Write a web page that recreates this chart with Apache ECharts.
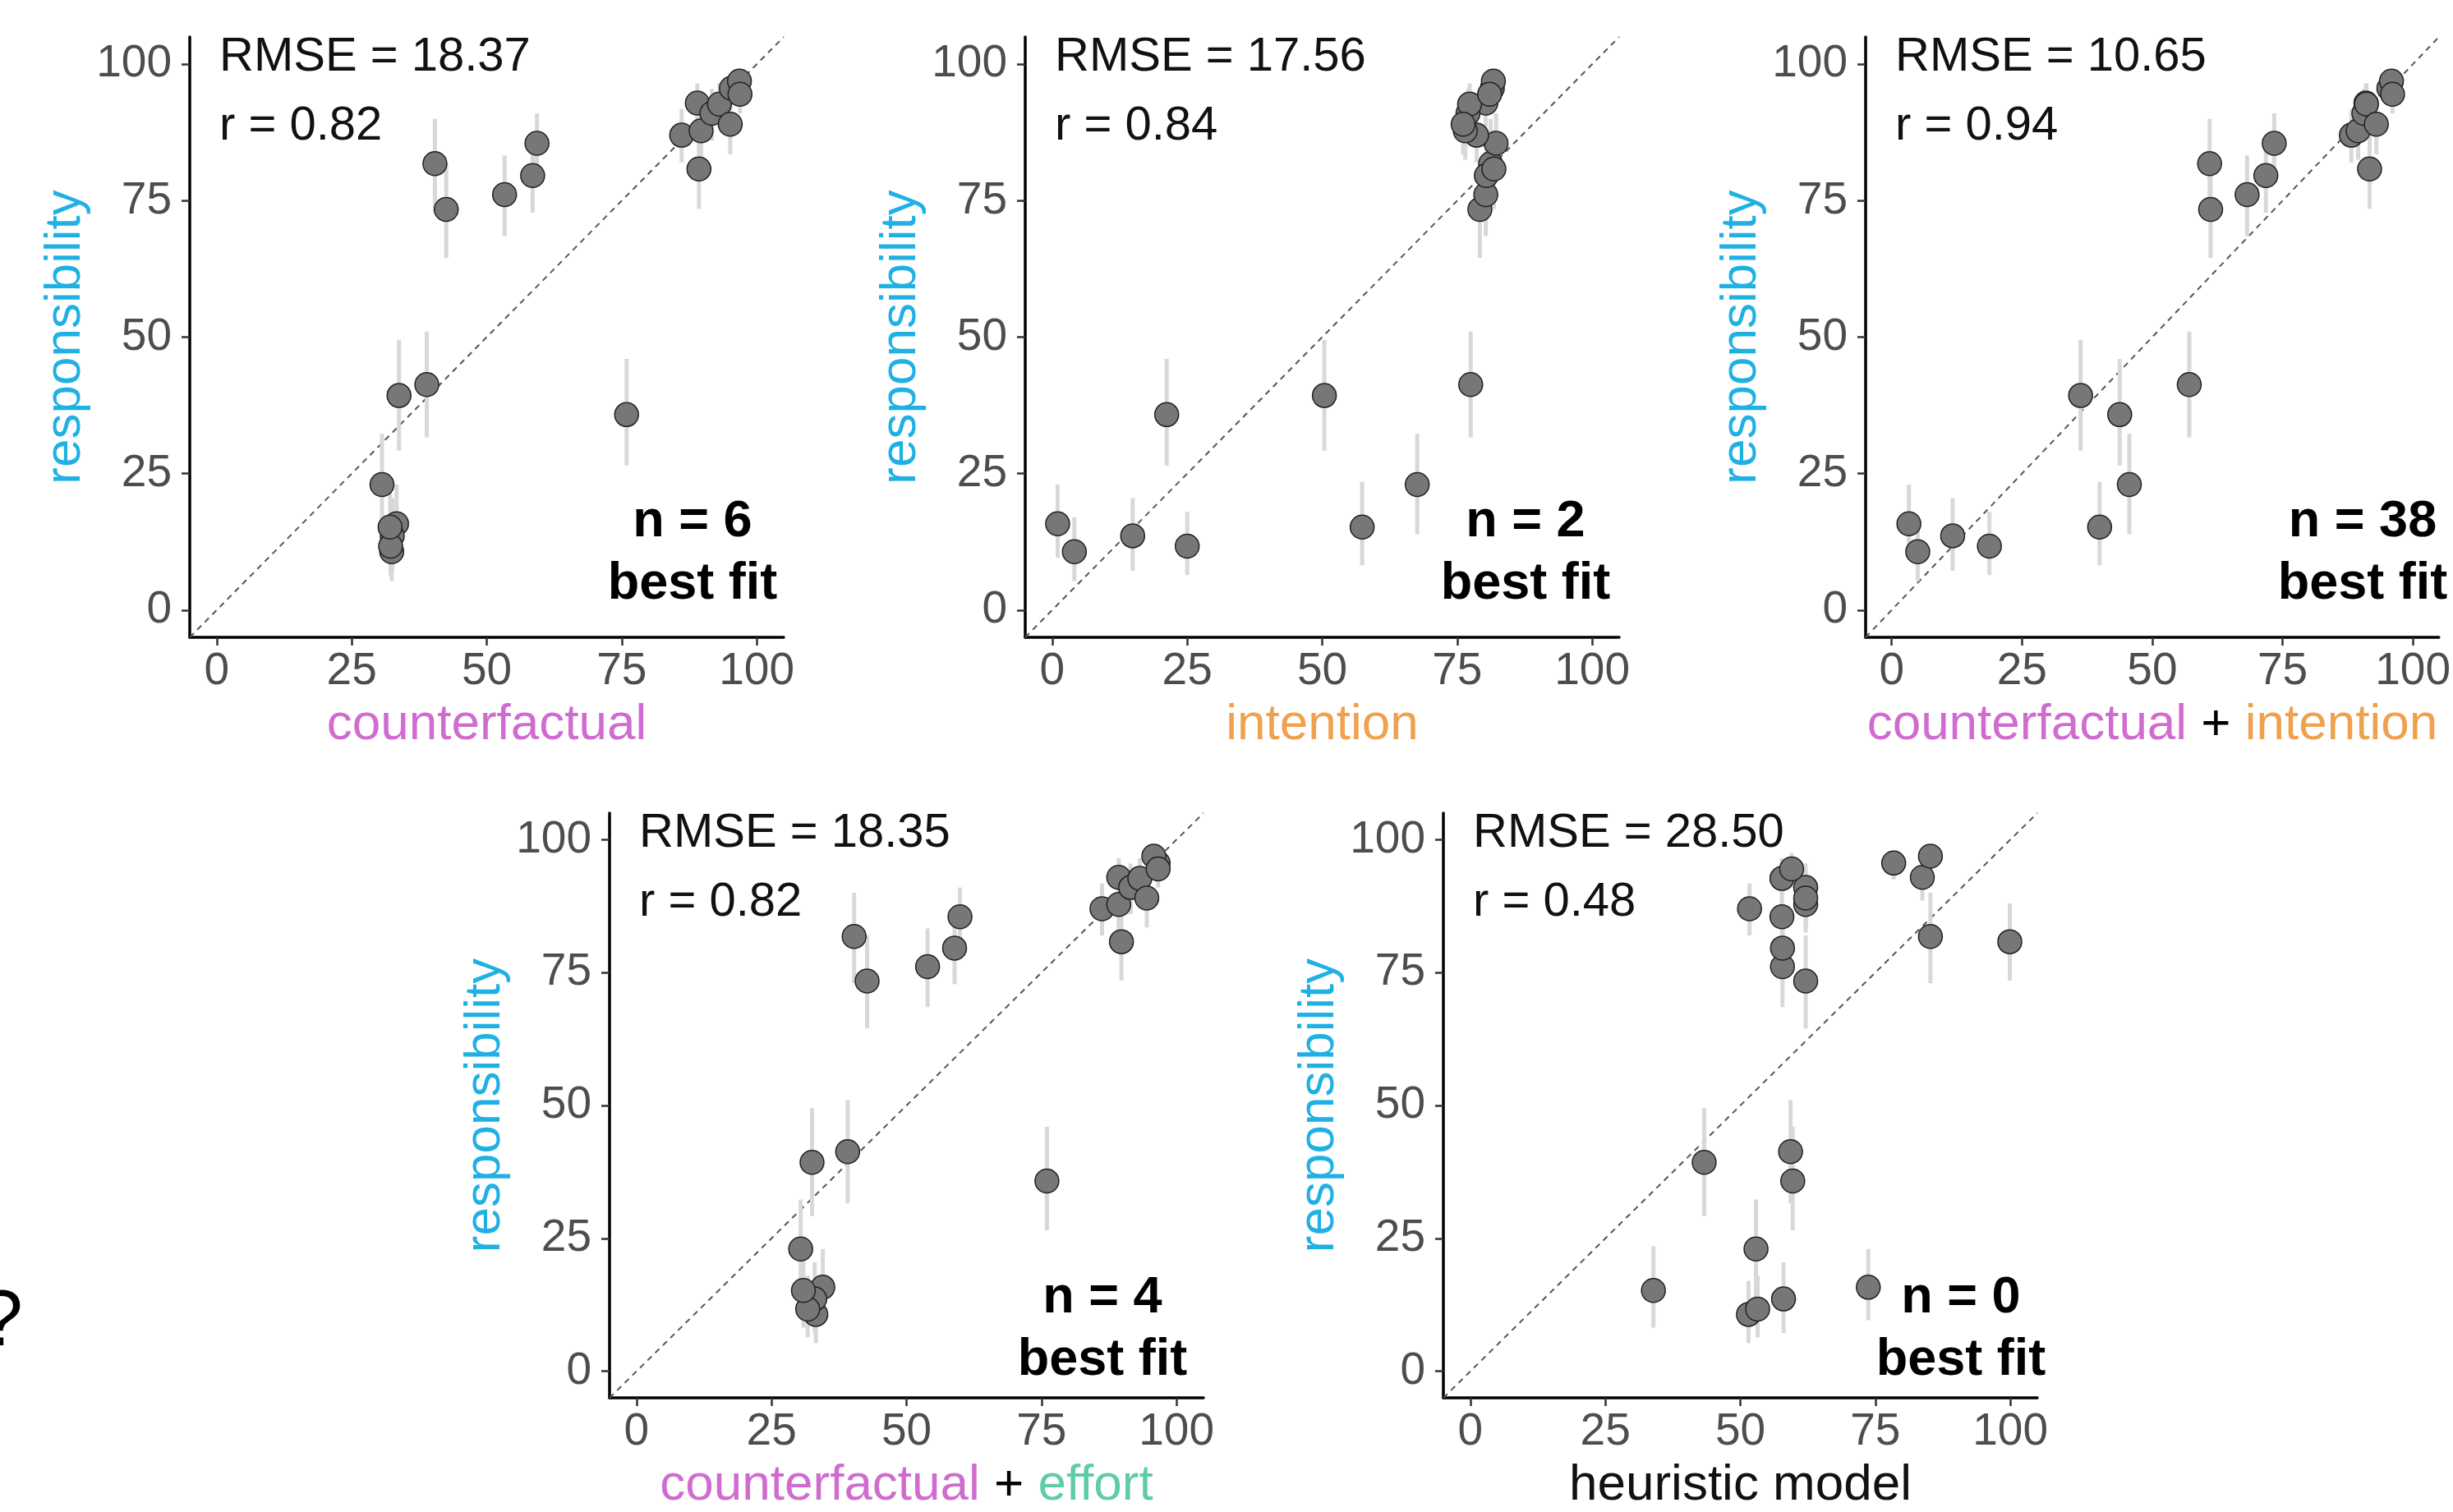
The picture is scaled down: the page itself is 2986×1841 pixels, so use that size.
<!DOCTYPE html>
<html>
<head>
<meta charset="utf-8">
<title>responsibility vs models</title>
<script src="https://cdn.jsdelivr.net/npm/echarts@6/dist/echarts.min.js"></script>
<style>
  html, body { margin: 0; padding: 0; background: #fff; }
  #chart { width: 2986px; height: 1841px; }
</style>
</head>
<body>
<div id="chart"></div>
<script>
// mean responsibility judgement per trial, with interval bounds
const responsibility = [15.8, 10.7, 13.6, 11.7, 15.2, 23.0, 39.3, 35.8, 41.3, 81.8, 73.4, 76.1, 79.6, 85.5,
  87.0, 92.9, 87.8, 80.8, 91.0, 92.7, 89.0, 95.6, 96.9, 94.5];
const respLow = [9.6, 5.3, 7.2, 6.4, 8.2, 13.9, 29.2, 26.5, 31.6, 73.0, 64.5, 68.5, 72.8, 80.0,
  82.0, 88.5, 82.5, 73.5, 86.0, 88.5, 83.5, 92.5, 94.0, 91.0];
const respHigh = [23.0, 17.0, 20.5, 18.0, 23.5, 32.3, 49.5, 46.0, 51.0, 90.0, 82.0, 83.3, 86.5, 91.0,
  91.8, 96.5, 92.0, 88.0, 95.5, 96.5, 94.0, 98.0, 99.0, 97.5];

// model predictions (same trial order)
const xCounterfactual = [33.3, 32.4, 32.5, 32.2, 32.1, 30.6, 33.75, 75.9, 38.9, 40.4, 42.5, 53.3, 58.5, 59.3,
  86.1, 89.0, 89.7, 89.3, 91.7, 93.1, 95.1, 95.3, 96.8, 96.9];
const xIntention = [1.0, 4.1, 14.9, 25.0, 57.4, 67.6, 50.4, 21.2, 77.5, 81.2, 79.2, 80.3, 80.4, 82.2,
  78.6, 80.3, 76.5, 81.8, 77.0, 77.3, 76.1, 81.5, 81.7, 81.0];
const xCfIntention = [3.3, 5.0, 11.7, 18.75, 39.9, 45.6, 36.25, 43.75, 57.1, 61.0, 61.2, 68.2, 71.8, 73.4,
  88.2, 91.0, 89.5, 91.7, 90.6, 91.1, 93.0, 95.4, 95.9, 96.1];
const xCfEffort = [34.5, 33.2, 33.0, 31.7, 30.9, 30.4, 32.5, 76.0, 39.1, 40.3, 42.7, 53.9, 58.9, 59.9,
  86.2, 89.3, 89.3, 89.8, 91.5, 93.2, 94.5, 96.6, 95.8, 96.6];
const xHeuristic = [73.7, 51.5, 58.0, 53.2, 33.9, 52.9, 43.3, 59.7, 59.3, 85.2, 62.1, 57.8, 57.8, 57.7,
  51.7, 83.7, 62.1, 99.9, 62.1, 57.7, 62.1, 78.4, 85.2, 59.5];

const rmseValues = ['18.37', '17.56', '10.65', '18.35', '28.50'];
const rValues = ['0.82', '0.84', '0.94', '0.82', '0.48'];
const nBestFit = [6, 2, 38, 4, 0];
const tickValues = [0, 25, 50, 75, 100];
const axisMin = -5, axisMax = 105;

const FONT = '"Liberation Sans", Arial, Helvetica, sans-serif';
const W = 723, H = 731;

const panels = [
  { left: 231, top: 45, xs: xCounterfactual, name: '{cf|counterfactual}', nOff: 612 },
  { left: 1248, top: 45, xs: xIntention, name: '{int|intention}', nOff: 609 },
  { left: 2271, top: 45, xs: xCfIntention, name: '{cf|counterfactual} {plus|+} {int|intention}', nOff: 605 },
  { left: 742, top: 990, xs: xCfEffort, name: '{cf|counterfactual} {plus|+} {eff|effort}', nOff: 600 },
  { left: 1757, top: 990, xs: xHeuristic, name: '{hm|heuristic model}', nOff: 630 }
];

const chart = echarts.init(document.getElementById('chart'), null, { renderer: 'canvas' });

const grid = [], xAxis = [], yAxis = [], series = [], graphic = [];

const axisCommon = {
  type: 'value',
  min: axisMin,
  max: axisMax,
  splitLine: { show: false },
  axisLine: { show: true, onZero: false, lineStyle: { color: '#000', width: 3.5 } },
  axisTick: { show: true, length: 10, customValues: tickValues, lineStyle: { color: '#333', width: 2.5 } },
  axisLabel: { customValues: tickValues, color: '#4d4d4d', fontSize: 55, fontFamily: FONT }
};

panels.forEach((p, k) => {
  grid.push({ left: p.left, top: p.top, width: W, height: H, containLabel: false });

  xAxis.push(Object.assign({}, axisCommon, {
    gridIndex: k,
    axisLabel: Object.assign({}, axisCommon.axisLabel, { margin: 14 }),
    name: p.name,
    nameLocation: 'middle',
    nameGap: 76,
    nameTextStyle: {
      fontSize: 62, fontFamily: FONT,
      rich: {
        cf: { color: '#d06ccf', fontSize: 62, fontFamily: FONT },
        int: { color: '#f0a14e', fontSize: 62, fontFamily: FONT },
        eff: { color: '#5fcca6', fontSize: 62, fontFamily: FONT },
        plus: { color: '#000', fontSize: 62, fontFamily: FONT },
        hm: { color: '#111', fontSize: 62, fontFamily: FONT }
      }
    }
  }));

  yAxis.push(Object.assign({}, axisCommon, {
    gridIndex: k,
    axisLabel: Object.assign({}, axisCommon.axisLabel, { margin: 22 }),
    name: 'responsibility',
    nameLocation: 'middle',
    nameGap: 120,
    nameTextStyle: { color: '#1fb0e4', fontSize: 62, fontFamily: FONT }
  }));

  // identity line
  series.push({
    type: 'line',
    xAxisIndex: k, yAxisIndex: k,
    data: [[axisMin, axisMin], [axisMax, axisMax]],
    symbol: 'none',
    silent: true,
    z: 1,
    lineStyle: { color: '#555', width: 2, type: [7, 6] }
  });

  // interval bars
  series.push({
    type: 'custom',
    xAxisIndex: k, yAxisIndex: k,
    z: 2,
    silent: true,
    data: p.xs.map((x, i) => [x, respLow[i], respHigh[i]]),
    encode: { x: 0, y: [1, 2] },
    renderItem: (params, api) => {
      const lo = api.coord([api.value(0), api.value(1)]);
      const hi = api.coord([api.value(0), api.value(2)]);
      return {
        type: 'line',
        shape: { x1: lo[0], y1: lo[1], x2: hi[0], y2: hi[1] },
        style: { stroke: '#d8d8d8', lineWidth: 5 }
      };
    }
  });

  // means
  series.push({
    type: 'scatter',
    xAxisIndex: k, yAxisIndex: k,
    z: 3,
    data: p.xs.map((x, i) => [x, responsibility[i]]),
    symbol: 'circle',
    symbolSize: 29,
    itemStyle: { color: '#777', borderColor: '#222', borderWidth: 1.5, opacity: 1 }
  });

  // annotations
  graphic.push({
    type: 'text', x: p.left + 36, y: p.top + 25, z: 10,
    style: { text: 'RMSE = ' + rmseValues[k], fontSize: 58, fontFamily: FONT, fill: '#111', verticalAlign: 'middle', align: 'left' }
  });
  graphic.push({
    type: 'text', x: p.left + 36, y: p.top + 109, z: 10,
    style: { text: 'r = ' + rValues[k], fontSize: 58, fontFamily: FONT, fill: '#111', verticalAlign: 'middle', align: 'left' }
  });
  graphic.push({
    type: 'text', x: p.left + p.nOff, y: p.top + 591, z: 10,
    style: { text: 'n = ' + nBestFit[k], fontSize: 63, fontWeight: 'bold', fontFamily: FONT, fill: '#000', verticalAlign: 'middle', align: 'center' }
  });
  graphic.push({
    type: 'text', x: p.left + p.nOff, y: p.top + 667, z: 10,
    style: { text: 'best fit', fontSize: 63, fontWeight: 'bold', fontFamily: FONT, fill: '#000', verticalAlign: 'middle', align: 'center' }
  });
});

// stray glyph cut by the left edge
graphic.push({
  type: 'text', x: 28, y: 1612,
  style: { text: '?', fontSize: 96, fontFamily: FONT, fill: '#000', verticalAlign: 'middle', align: 'right' }
});

chart.setOption({
  animation: false,
  backgroundColor: '#fff',
  grid: grid,
  xAxis: xAxis,
  yAxis: yAxis,
  series: series,
  graphic: graphic
});
</script>
</body>
</html>
